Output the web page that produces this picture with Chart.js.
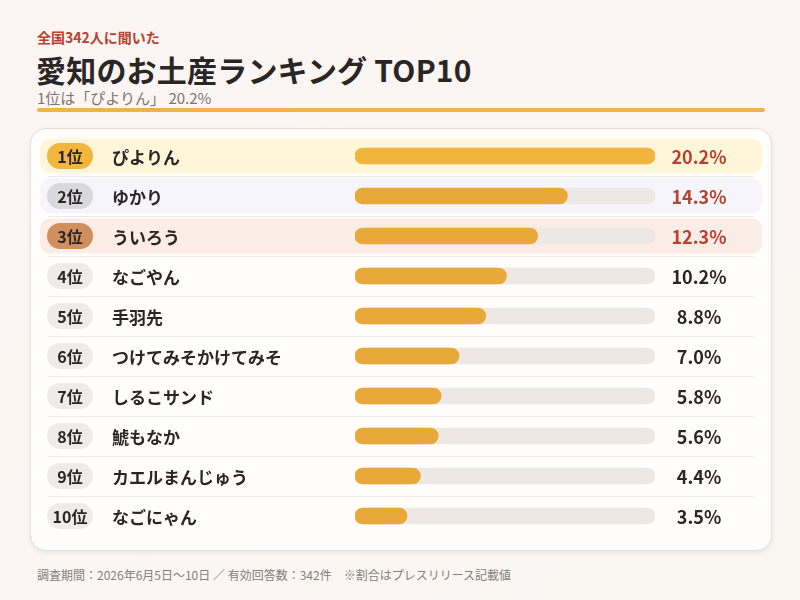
<!DOCTYPE html>
<html lang="ja">
<head>
<meta charset="utf-8">
<script src="https://cdn.jsdelivr.net/npm/chart.js@4"></script>
<style>
  html, body { margin: 0; padding: 0; }
  body {
    width: 800px; height: 600px; overflow: hidden; position: relative;
    background: linear-gradient(135deg, #fcf4f2 0%, #fbf6f3 50%, #f9f5f1 100%);
    font-family: "Noto Sans CJK JP", "Noto Sans", sans-serif;
  }
  .kicker { position: absolute; left: 37px; top: 27px; font-size: 14px; font-weight: 700; color: #b9412f; line-height: 20px; }
  .title { position: absolute; left: 36px; top: 49px; font-size: 30px; font-weight: 700; color: #2a2626; line-height: 40px; letter-spacing: 0.2px; }
  .sub { position: absolute; left: 37px; top: 88px; font-size: 15px; color: #7a7572; line-height: 19px; }
  .rule { position: absolute; left: 37px; top: 108px; width: 728px; height: 4px; border-radius: 2px; background: #f0b540; }
  .card { position: absolute; left: 30px; top: 128px; width: 740px; height: 421px; background: #fffefd; border: 1px solid #e6dfdb; border-radius: 16px; box-shadow: 0 2px 4px rgba(120,90,70,0.10); }
  .chartbox { position: absolute; left: 30px; top: 128px; width: 742px; height: 423px; }
  .foot { position: absolute; left: 37px; top: 566px; font-size: 12px; color: #85807c; line-height: 18px; }
</style>
</head>
<body>
<div class="kicker">全国342人に聞いた</div>
<div class="title">愛知のお土産ランキング TOP10</div>
<div class="sub">1位は「ぴよりん」 20.2%</div>
<div class="rule"></div>
<div class="card"></div>
<div class="chartbox"><canvas id="c" width="742" height="423"></canvas></div>
<div class="foot">調査期間：2026年6月5日〜10日 ／ 有効回答数：342件　※割合はプレスリリース記載値</div>
<script>
const ranks = ["1位","2位","3位","4位","5位","6位","7位","8位","9位","10位"];
const categories = ["ぴよりん","ゆかり","ういろう","なごやん","手羽先","つけてみそかけてみそ","しるこサンド","鯱もなか","カエルまんじゅう","なごにゃん"];
const shares = [20.2, 14.3, 12.3, 10.2, 8.8, 7.0, 5.8, 5.6, 4.4, 3.5];
const shareLabels = ["20.2%","14.3%","12.3%","10.2%","8.8%","7.0%","5.8%","5.6%","4.4%","3.5%"];
const maxShare = 20.2;

const FONT = '"Noto Sans CJK JP", "Noto Sans", sans-serif';
const badgeColors = ["#f2b63d","#d9d8dc","#d08f5c"];
const rowBgColors = ["#fff5d8","#f6f5fb","#fbede5"];

function roundRect(ctx, x, y, w, h, r) {
  ctx.beginPath();
  ctx.moveTo(x + r, y);
  ctx.arcTo(x + w, y, x + w, y + h, r);
  ctx.arcTo(x + w, y + h, x, y + h, r);
  ctx.arcTo(x, y + h, x, y, r);
  ctx.arcTo(x, y, x + w, y, r);
  ctx.closePath();
}

const rowsPlugin = {
  id: 'rows',
  beforeDatasetsDraw(chart) {
    const ctx = chart.ctx;
    const y = chart.scales.y;
    ctx.save();
    categories.forEach((c, i) => {
      const cy = y.getPixelForValue(i);
      if (i < 3) {
        ctx.fillStyle = rowBgColors[i];
        roundRect(ctx, 10, cy - 17.5, 722, 35, 10);
        ctx.fill();
      }
      if (i < categories.length - 1) {
        ctx.strokeStyle = "#efe9e6";
        ctx.lineWidth = 1;
        ctx.beginPath();
        ctx.moveTo(18, Math.round(cy + 20) + 0.5);
        ctx.lineTo(724, Math.round(cy + 20) + 0.5);
        ctx.stroke();
      }
    });
    ctx.restore();
  },
  afterDatasetsDraw(chart) {
    const ctx = chart.ctx;
    const y = chart.scales.y;
    ctx.save();
    categories.forEach((c, i) => {
      const cy = y.getPixelForValue(i);
      ctx.fillStyle = i < 3 ? badgeColors[i] : "#eeebea";
      roundRect(ctx, 17, cy - 13, 46, 26, 13);
      ctx.fill();
      ctx.fillStyle = "#2a2626";
      ctx.font = "700 16px " + FONT;
      ctx.textAlign = "center";
      ctx.textBaseline = "middle";
      ctx.fillText(ranks[i], 40, cy + 1);
      ctx.textAlign = "left";
      ctx.font = "700 17px " + FONT;
      ctx.fillStyle = "#2a2626";
      ctx.fillText(c, 82, cy + 2);
      ctx.textAlign = "center";
      ctx.font = "700 18px " + FONT;
      ctx.fillStyle = i < 3 ? "#b9412f" : "#2a2626";
      ctx.fillText(shareLabels[i], 669, cy + 1);
    });
    ctx.restore();
  }
};

new Chart(document.getElementById('c'), {
  type: 'bar',
  data: {
    labels: categories,
    datasets: [
      {
        label: '割合',
        data: shares,
        backgroundColor: shares.map((v, i) => i === 0 ? "#f1b53e" : "#e8a93a"),
        barThickness: 16,
        borderRadius: 8,
        borderSkipped: false,
        grouped: false,
        order: 0
      },
      {
        label: 'track',
        data: shares.map(() => maxShare),
        backgroundColor: "#eee8e4",
        barThickness: 16,
        borderRadius: 8,
        borderSkipped: false,
        grouped: false,
        order: 1
      }
    ]
  },
  options: {
    indexAxis: 'y',
    responsive: false,
    animation: false,
    layout: { padding: { left: 325, right: 117, top: 8, bottom: 15 } },
    scales: {
      x: { display: false, min: 0, max: maxShare },
      y: { display: false }
    },
    plugins: { legend: { display: false }, tooltip: { enabled: false } }
  },
  plugins: [rowsPlugin]
});
</script>
</body>
</html>
